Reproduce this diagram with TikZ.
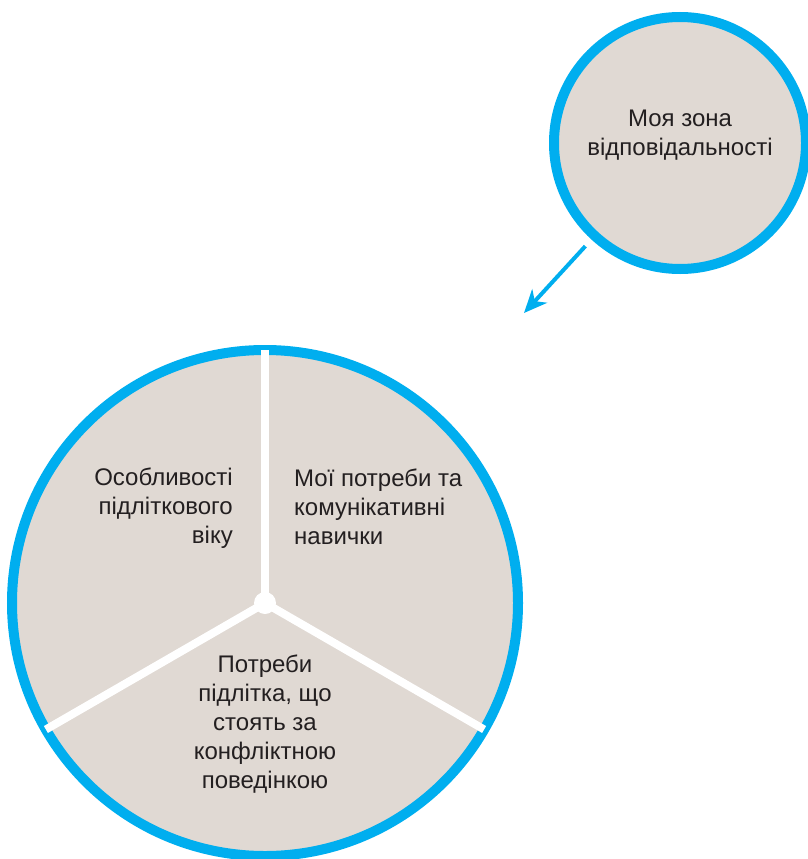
\documentclass[tikz,border=0pt]{standalone}
\usepackage{fontspec}
\setmainfont{Liberation Sans}
\usepackage{xcolor}
\usepackage{tikz}
\usetikzlibrary{positioning,calc,arrows.meta}

\definecolor{ringblue}{HTML}{00AEEF}
\definecolor{piefill}{HTML}{E0D9D3}
\definecolor{textgray}{HTML}{231F20}

\begin{document}
\begin{tikzpicture}[x=1pt,y=-1pt,
    ring/.style={circle,draw=ringblue,fill=piefill,line width=10pt,inner sep=0pt},
    sep/.style={draw=white,line width=8pt,shorten >=5pt},
    sectortext/.style={text=textgray,inner sep=0pt,font=\fontsize{24}{29}\selectfont}]
    \useasboundingbox (0,0) rectangle (808,859);
    % Small circle
    \node[ring,minimum size=252pt] (zone) at (680,143) {};
    \node[sectortext,align=center,anchor=base] (zonetext) at (680,155) {Моя зона\\відповідальності};
    % Big circle
    \node[ring,minimum size=506pt] (pie) at (265,603) {};
    % Separators
    \draw[sep] (pie.center) -- (pie.90);
    \draw[sep] (pie.center) -- (pie.210);
    \draw[sep] (pie.center) -- (pie.-30);
    \node[circle,fill=white,minimum size=22pt,inner sep=0pt] (hub) at (pie.center) {};
    % Arrow
    \coordinate (tip) at (524,313);
    \draw[ringblue,line width=4pt,shorten <=9pt,-{Stealth[length=23pt,width=20pt,inset=7pt]}] (zone) -- (tip);
    % Sectors
    \node[sectortext,align=right,anchor=base east] (age) at (233,543) {Особливості\\підліткового\\віку};
    \node[sectortext,align=left,anchor=base west] (mine) at (294,544) {Мої потреби та\\комунікативні\\навички};
    \node[sectortext,align=center,anchor=base] (needs) at (265,788) {Потреби\\підлітка, що\\стоять за\\конфліктною\\поведінкою};
\end{tikzpicture}
\end{document}
